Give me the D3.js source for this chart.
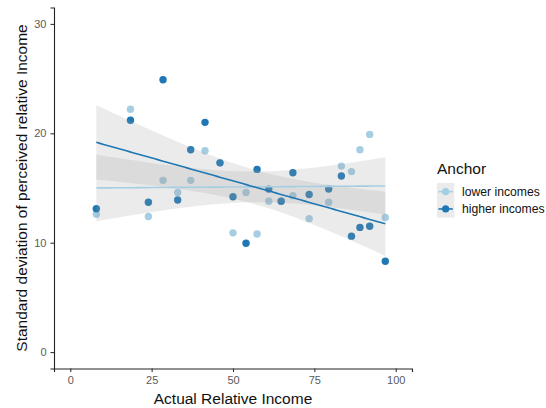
<!DOCTYPE html>
<html>
<head>
<meta charset="utf-8">
<script src="https://cdn.jsdelivr.net/npm/d3@7"></script>
<style>
  body { margin: 0; background: #fff; }
  svg { display: block; font-family: "Liberation Sans", Arial, Helvetica, sans-serif; }
</style>
</head>
<body>
<svg id="chart" width="546" height="408"></svg>
<script>
// Actual relative income (shared across both anchor conditions)
const actualIncome = [8, 18.5, 24, 28.5, 33, 37, 41.4, 46, 50, 54, 57.4, 61, 64.8, 68.4, 73.4, 79.4, 83.3, 86.4, 89, 92, 96.8];
// SD of perceived relative income, per anchor condition
const sdLower  = [12.6, 22.2, 12.4, 15.7, 14.6, 15.7, 18.4, 17.3, 10.9, 14.6, 10.8, 13.8, 13.8, 14.3, 12.2, 13.7, 17.0, 16.5, 18.5, 19.9, 12.3];
const sdHigher = [13.1, 21.2, 13.7, 24.9, 13.9, 18.5, 21.0, 17.3, 14.2, 9.95, 16.7, 14.9, 13.8, 16.4, 14.4, 14.9, 16.1, 10.6, 11.4, 11.5, 8.3];
const anchorLabels = ["lower incomes", "higher incomes"];
const anchorColors = ["#a6cee3", "#1f78b4"];
const xTicks = [0, 25, 50, 75, 100];
const yTicks = [0, 10, 20, 30];

const svg = d3.select("#chart");

// Panel: limits 0..100 and 0..30 with 5% expansion
const x = d3.scaleLinear().domain([-5, 105]).range([54, 412]);
const y = d3.scaleLinear().domain([-1.5, 31.5]).range([368.5, 7.5]);

// Linear model with 95% confidence band
function lmFit(xs, ys) {
  const n = xs.length;
  const mx = d3.mean(xs), my = d3.mean(ys);
  let sxx = 0, sxy = 0;
  for (let i = 0; i < n; i++) { sxx += (xs[i] - mx) ** 2; sxy += (xs[i] - mx) * (ys[i] - my); }
  const b = sxy / sxx, a = my - b * mx;
  let sse = 0;
  for (let i = 0; i < n; i++) sse += (ys[i] - a - b * xs[i]) ** 2;
  const s = Math.sqrt(sse / (n - 2));
  const tq = 2.093; // t(0.975, df = 19)
  const lo = d3.min(xs), hi = d3.max(xs);
  const grid = d3.range(80).map(i => lo + (hi - lo) * i / 79);
  return grid.map(gx => {
    const fit = a + b * gx;
    const se = s * Math.sqrt(1 / n + (gx - mx) ** 2 / sxx);
    return { x: gx, fit, lo: fit - tq * se, hi: fit + tq * se };
  });
}

const series = [sdLower, sdHigher].map((vals, k) => ({
  label: anchorLabels[k],
  color: anchorColors[k],
  points: actualIncome.map((v, i) => ({ x: v, y: vals[i] })),
  fit: lmFit(actualIncome, vals)
}));

// Points
series.forEach(s => {
  svg.append("g").selectAll("circle").data(s.points).join("circle")
    .attr("cx", d => x(d.x)).attr("cy", d => y(d.y)).attr("r", 3.7)
    .attr("fill", s.color);
});

// Confidence ribbons
const area = d3.area().x(d => x(d.x)).y0(d => y(d.lo)).y1(d => y(d.hi));
series.forEach(s => {
  svg.append("path").datum(s.fit).attr("d", area)
    .attr("fill", "#999999").attr("fill-opacity", 0.2);
});
// Fitted lines
const line = d3.line().x(d => x(d.x)).y(d => y(d.fit));
series.forEach(s => {
  svg.append("path").datum(s.fit).attr("d", line)
    .attr("fill", "none").attr("stroke", s.color).attr("stroke-width", 1.6);
});

// Axes
const xAxis = svg.append("g").attr("transform", "translate(0,368.5)")
  .call(d3.axisBottom(x).tickValues(xTicks).tickSize(3.5).tickPadding(4));
const yAxis = svg.append("g").attr("transform", "translate(54,0)")
  .call(d3.axisLeft(y).tickValues(yTicks).tickSize(3.5).tickPadding(4));
[xAxis, yAxis].forEach(g => {
  g.select(".domain").attr("stroke", "#222").attr("stroke-width", 1.1);
  g.selectAll(".tick line").attr("stroke", "#333").attr("stroke-width", 1.1);
  g.selectAll(".tick text").attr("fill", "#5a5a5a").style("font-size", "11px")
    .style("font-family", "'Liberation Sans', Arial, sans-serif");
});

// Axis titles
svg.append("text").attr("x", 233).attr("y", 404).attr("text-anchor", "middle")
  .style("font-size", "15.5px").attr("fill", "#111").text("Actual Relative Income");
svg.append("text").attr("transform", "translate(27,188) rotate(-90)").attr("text-anchor", "middle")
  .style("font-size", "15.5px").attr("fill", "#111").text("Standard deviation of perceived relative Income");

// Legend
const lg = svg.append("g").attr("transform", "translate(437,0)");
lg.append("text").attr("x", 0).attr("y", 174).style("font-size", "15.5px").attr("fill", "#111").text("Anchor");
series.forEach((s, i) => {
  const ky = 183 + i * 17.3;
  lg.append("rect").attr("x", 0).attr("y", ky).attr("width", 17.3).attr("height", 17.3)
    .attr("fill", "#999999").attr("fill-opacity", 0.2);
  lg.append("line").attr("x1", 1.5).attr("x2", 15.8).attr("y1", ky + 8.65).attr("y2", ky + 8.65)
    .attr("stroke", s.color).attr("stroke-width", 1.6);
  lg.append("circle").attr("cx", 8.65).attr("cy", ky + 8.65).attr("r", 3.6).attr("fill", s.color);
  lg.append("text").attr("x", 25).attr("y", ky + 13).style("font-size", "12.2px").attr("fill", "#111").text(s.label);
});
</script>
</body>
</html>
